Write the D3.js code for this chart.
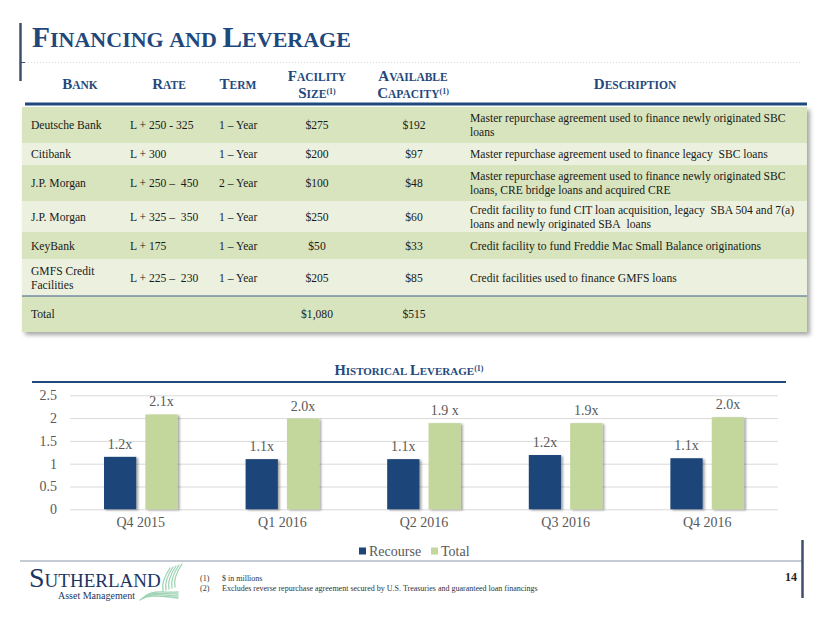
<!DOCTYPE html>
<html>
<head>
<meta charset="utf-8">
<script src="https://cdn.jsdelivr.net/npm/d3@7"></script>
<style>
  html, body { margin: 0; padding: 0; background: #fff; }
  svg { display: block; }
  text { font-family: "Liberation Serif", "Times New Roman", serif; }
</style>
</head>
<body>
<svg id="chart" width="830" height="623"></svg>
<script>
// ---------------- DATA ----------------
const banks = ["Deutsche Bank", "Citibank", "J.P. Morgan", "J.P. Morgan", "KeyBank", ["GMFS Credit", "Facilities"]];
const rates = ["L + 250 - 325", "L + 300", "L + 250 \u2013\u00A0 450", "L + 325 \u2013\u00A0 350", "L + 175", "L + 225 \u2013\u00A0 230"];
const terms = ["1 \u2013 Year", "1 \u2013 Year", "2 \u2013 Year", "1 \u2013 Year", "1 \u2013 Year", "1 \u2013 Year"];
const facilitySizes = ["$275", "$200", "$100", "$250", "$50", "$205"];
const availableCapacities = ["$192", "$97", "$48", "$60", "$33", "$85"];
const descriptions = [
  ["Master repurchase agreement used to finance newly originated SBC", "loans"],
  ["Master repurchase agreement used to finance legacy\u00A0 SBC loans"],
  ["Master repurchase agreement used to finance newly originated SBC", "loans, CRE bridge loans and acquired CRE"],
  ["Credit facility to fund CIT loan acquisition, legacy\u00A0 SBA 504 and 7(a)", "loans and newly originated SBA\u00A0 loans"],
  ["Credit facility to fund Freddie Mac Small Balance originations"],
  ["Credit facilities used to finance GMFS loans"]
];
const totalRow = ["Total", "$1,080", "$515"];

const quarters = ["Q4 2015", "Q1 2016", "Q2 2016", "Q3 2016", "Q4 2016"];
const seriesNames = ["Recourse", "Total"];
const recourse = [1.15, 1.10, 1.10, 1.19, 1.12];
const total = [2.08, 1.99, 1.89, 1.89, 2.02];
const recourseLabels = ["1.2x", "1.1x", "1.1x", "1.2x", "1.1x"];
const totalLabels = ["2.1x", "2.0x", "1.9 x", "1.9x", "2.0x"];
const yTicks = [0, 0.5, 1, 1.5, 2, 2.5];
const footnotes = ["$ in millions", "Excludes reverse repurchase agreement secured by U.S. Treasuries and guaranteed loan financings"];

// ---------------- STYLE ----------------
const BLUE = "#1F497D";
const NAVY = "#1F4479";
const GREEN = "#C3D69B";
const ROW_DARK = "#D7E4BD";
const ROW_LIGHT = "#EBF1DE";
const GREY_TXT = "#595959";

const svg = d3.select("#chart");
const defs = svg.append("defs");
const sh = defs.append("filter").attr("id", "tblShadow").attr("x", "-5%").attr("y", "-5%").attr("width", "110%").attr("height", "115%");
sh.append("feDropShadow").attr("dx", 3).attr("dy", 3).attr("stdDeviation", 2).attr("flood-color", "#000").attr("flood-opacity", 0.35);
const bsh = defs.append("filter").attr("id", "barShadow").attr("x", "-20%").attr("y", "-10%").attr("width", "150%").attr("height", "120%");
bsh.append("feDropShadow").attr("dx", 2).attr("dy", 1).attr("stdDeviation", 1.2).attr("flood-color", "#000").attr("flood-opacity", 0.35);

// small-caps helper: words starting with uppercase get a big first letter
function smallCaps(sel, str, big, small) {
  const words = str.split(" ");
  words.forEach((w, i) => {
    const m = w.match(/^([A-Z])(.*)$/);
    if (m) {
      sel.append("tspan").attr("font-size", big).text(m[1]);
      if (m[2]) sel.append("tspan").attr("font-size", small).text(m[2].toUpperCase());
    } else {
      sel.append("tspan").attr("font-size", small).text(w.toUpperCase());
    }
    if (i < words.length - 1) sel.append("tspan").attr("font-size", small).text("\u00A0");
  });
}
function sup(sel, s, size, dy) {
  sel.append("tspan").attr("font-size", size).attr("dy", -dy).text(s);
  sel.append("tspan").attr("font-size", size).attr("dy", dy).text("");
}

// ---------------- PAGE FRAME ----------------
svg.append("line").attr("x1", 20.5).attr("x2", 20.5).attr("y1", 23).attr("y2", 81).attr("stroke", "#3F4F6B").attr("stroke-width", 2.5);
svg.append("line").attr("x1", 20).attr("x2", 25).attr("y1", 62.5).attr("y2", 62.5).attr("stroke", "#3F4F6B").attr("stroke-width", 1);
svg.append("line").attr("x1", 25).attr("x2", 800).attr("y1", 62.5).attr("y2", 62.5).attr("stroke", "#D8D8D8").attr("stroke-width", 1).attr("stroke-dasharray", "1,2");

const title = svg.append("text").attr("x", 32).attr("y", 47).attr("fill", BLUE).attr("font-weight", "bold");
smallCaps(title, "Financing and Leverage", 29.5, 22);

// ---------------- TABLE ----------------
const colBank = 31, colRate = 130, colTerm = 219, colSize = 317, colAvail = 414, colDesc = 470;
const tblLeft = 22, tblRight = 807;
const hdrFs = 15, hdrSm = 11.5;
function hdr(x, y, str, anchor) {
  const t = svg.append("text").attr("x", x).attr("y", y).attr("fill", BLUE).attr("font-weight", "bold").attr("text-anchor", anchor || "middle");
  smallCaps(t, str, hdrFs, hdrSm);
  return t;
}
hdr(80, 89, "Bank");
hdr(169, 89, "Rate");
hdr(238, 89, "Term");
hdr(317, 81, "Facility");
sup(hdr(317, 98, "Size"), "(1)", 8, 4);
hdr(413, 81, "Available");
sup(hdr(413, 98, "Capacity"), "(1)", 8, 4);
hdr(635, 89, "Description");

const rowTops = [107, 143, 165, 201, 232, 259, 296, 332];
const tbl = svg.append("g");
const bodyG = tbl.append("g").attr("filter", "url(#tblShadow)");
bodyG.append("rect").attr("x", tblLeft).attr("y", rowTops[0]).attr("width", tblRight - tblLeft).attr("height", rowTops[7] - rowTops[0]).attr("fill", ROW_DARK);
for (let i = 0; i < 7; i++) {
  tbl.append("rect").attr("x", tblLeft).attr("y", rowTops[i]).attr("width", tblRight - tblLeft)
    .attr("height", rowTops[i + 1] - rowTops[i]).attr("fill", i % 2 === 0 ? ROW_DARK : ROW_LIGHT);
}
svg.append("line").attr("x1", 25).attr("x2", tblRight).attr("y1", 104).attr("y2", 104).attr("stroke", BLUE).attr("stroke-width", 3);
svg.append("line").attr("x1", tblLeft).attr("x2", tblRight).attr("y1", 296).attr("y2", 296).attr("stroke", "#3E5C8A").attr("stroke-width", 1.2);

const bodyFs = 11.6, TXT = "#1a1a1a", lh = 14;
function multiline(x, cy, lines, anchor) {
  lines = Array.isArray(lines) ? lines : [lines];
  const t = svg.append("text").attr("x", x).attr("font-size", bodyFs).attr("fill", TXT).attr("text-anchor", anchor || "start");
  const y0 = cy - (lines.length - 1) * lh / 2 + 4;
  lines.forEach((l, i) => t.append("tspan").attr("x", x).attr("y", y0 + i * lh).text(l));
}
banks.forEach((b, i) => {
  const cy = (rowTops[i] + rowTops[i + 1]) / 2;
  multiline(colBank, cy, b);
  multiline(colRate, cy, rates[i]);
  multiline(colTerm, cy, terms[i]);
  multiline(colSize, cy, facilitySizes[i], "middle");
  multiline(colAvail, cy, availableCapacities[i], "middle");
  multiline(colDesc, cy, descriptions[i]);
});
{
  const cy = (rowTops[6] + rowTops[7]) / 2;
  multiline(colBank, cy, totalRow[0]);
  multiline(colSize, cy, totalRow[1], "middle");
  multiline(colAvail, cy, totalRow[2], "middle");
}

// ---------------- CHART ----------------
const ct = svg.append("text").attr("x", 409).attr("y", 375).attr("fill", BLUE).attr("font-weight", "bold").attr("text-anchor", "middle");
smallCaps(ct, "Historical Leverage", 14.5, 11);
sup(ct, "(1)", 8, 4);
svg.append("line").attr("x1", 32).attr("x2", 786).attr("y1", 382).attr("y2", 382).attr("stroke", BLUE).attr("stroke-width", 2);

const plotL = 70, plotR = 778, plotT = 395.3, plotB = 509.3;
const x0 = d3.scaleBand().domain(quarters).range([plotL, plotR]);
const bw = x0.bandwidth();
const x1 = d3.scaleBand().domain(seriesNames).range([bw * 0.24, bw * 0.76]).paddingInner(0.22);
const y = d3.scaleLinear().domain([0, 2.5]).range([plotB, plotT]);

// gridlines
const grid = svg.append("g").attr("transform", `translate(${plotL},0)`)
  .call(d3.axisLeft(y).tickValues(yTicks).tickSize(-(plotR - plotL)).tickFormat(""));
grid.select(".domain").remove();
grid.selectAll("line").attr("stroke", "#D9D9D9").attr("stroke-width", 1);

// y axis labels
const ya = svg.append("g").attr("transform", `translate(${plotL - 13},0)`)
  .call(d3.axisLeft(y).tickValues(yTicks).tickSize(0).tickPadding(0).tickFormat(d => String(d)));
ya.select(".domain").remove();
ya.selectAll("text").attr("font-family", "Liberation Serif, serif").attr("font-size", 14).attr("fill", GREY_TXT);

// x axis labels
const xa = svg.append("g").attr("transform", `translate(0,${plotB})`)
  .call(d3.axisBottom(x0).tickSize(0).tickPadding(8));
xa.select(".domain").remove();
xa.selectAll("text").attr("font-family", "Liberation Serif, serif").attr("font-size", 14).attr("fill", GREY_TXT);

const seriesData = [
  { name: "Recourse", values: recourse, labels: recourseLabels, color: NAVY },
  { name: "Total", values: total, labels: totalLabels, color: GREEN }
];
const barsG = svg.append("g");
seriesData.forEach(s => {
  barsG.selectAll(null).data(quarters).enter().append("rect")
    .attr("x", (q) => x0(q) + x1(s.name))
    .attr("y", (q, i) => y(s.values[i]))
    .attr("width", x1.bandwidth())
    .attr("height", (q, i) => plotB - y(s.values[i]))
    .attr("fill", s.color)
    .attr("filter", "url(#barShadow)");
  barsG.selectAll(null).data(quarters).enter().append("text")
    .attr("x", (q) => x0(q) + x1(s.name) + x1.bandwidth() / 2)
    .attr("y", (q, i) => y(s.values[i]) - 8)
    .attr("text-anchor", "middle")
    .attr("font-size", 14)
    .attr("fill", GREY_TXT)
    .text((q, i) => s.labels[i]);
});

// legend
const legend = svg.append("g");
const legX = [359, 431];
seriesData.forEach((s, i) => {
  legend.append("rect").attr("x", legX[i]).attr("y", 547.5).attr("width", 7).attr("height", 7).attr("fill", s.color);
  legend.append("text").attr("x", legX[i] + 10).attr("y", 556).attr("font-size", 14).attr("fill", GREY_TXT).text(s.name);
});

// ---------------- FOOTER ----------------
svg.append("line").attr("x1", 20).attr("x2", 802).attr("y1", 561).attr("y2", 561).attr("stroke", "#8A97AA").attr("stroke-width", 1.2);
svg.append("line").attr("x1", 802.5).attr("x2", 802.5).attr("y1", 540).attr("y2", 598).attr("stroke", "#3F4F6B").attr("stroke-width", 2.5);
svg.append("text").attr("x", 797).attr("y", 581).attr("text-anchor", "end").attr("font-size", 12).attr("font-weight", "bold").attr("fill", "#222").text("14");

footnotes.forEach((f, i) => {
  svg.append("text").attr("x", 200).attr("y", 581 + i * 10).attr("font-size", 8).attr("fill", "#333").text(`(${i + 1})`);
  svg.append("text").attr("x", 222).attr("y", 581 + i * 10).attr("font-size", 8).attr("fill", "#333").text(f);
});

// logo
const logo = svg.append("g");
const lt = logo.append("text").attr("x", 29).attr("y", 587).attr("fill", "#1B3563");
lt.append("tspan").attr("font-size", 28).text("S");
lt.append("tspan").attr("font-size", 19).text("UTHERLAND");
logo.append("text").attr("x", 58).attr("y", 599).attr("font-size", 10).attr("fill", "#1B3563").text("Asset Management");
const swirl = logo.append("g").attr("fill", "none").attr("stroke", "#9FD3B5").attr("stroke-width", 1.3).attr("stroke-linecap", "round");
for (let k = 0; k < 5; k++) {
  swirl.append("path").attr("d", `M${163 + k * 3},${591 - k} C${161 + k * 3},${582 - k} ${166 + k * 3},${574 - k} ${170 + k * 3},${568 - k}`);
}
for (let k = 0; k < 4; k++) {
  swirl.append("path").attr("d", `M${140 + k * 2},${600 - k * 1.5} C${148 + k * 2},${594 - k * 1.5} ${160 + k * 2},${596 - k} ${178},${598 - k * 2}`);
}
</script>
</body>
</html>
